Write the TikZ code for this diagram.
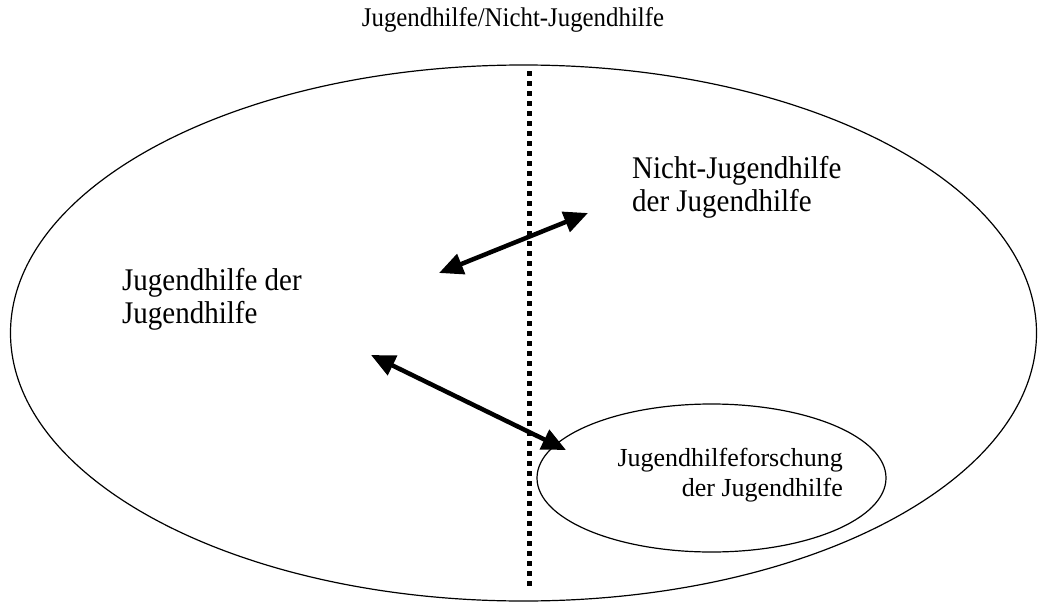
\documentclass[tikz,border=0pt]{standalone}
\usepackage{fontspec}
\setmainfont{Liberation Serif}
\newfontfamily\tallserif[FakeStretch=0.92]{Liberation Serif}
\usetikzlibrary{arrows.meta}
\begin{document}
\begin{tikzpicture}[x=1pt,y=-1pt,
  bigtext/.style={font=\tallserif\fontsize{31.5}{33}\selectfont, inner sep=0pt, align=left},
  smalltext/.style={font=\fontsize{26}{29.5}\selectfont, inner sep=0pt, align=right},
  titletext/.style={font=\tallserif\fontsize{27}{30}\selectfont, inner sep=0pt},
  outline/.style={draw=black, line width=1.2pt},
  divider/.style={line width=5pt, dash pattern=on 5pt off 5pt},
  dblarrow/.style={line width=4.5pt, {Triangle[length=24pt,width=21pt]}-{Triangle[length=24pt,width=21pt]}}
]
\useasboundingbox (0,0) rectangle (1038,602);
\draw[outline] (523.5,333) ellipse [x radius=513, y radius=268];
\draw[outline] (711.5,478) ellipse [x radius=174.5, y radius=74];
\coordinate (dtop) at (529,71);
\coordinate (dbot) at (529,590);
\draw[divider] (dtop) -- (dbot);
\node[titletext, anchor=base] (title) at (513,27) {Jugendhilfe/Nicht-Jugendhilfe};
\node[bigtext, anchor=north west] (nj) at (632,156) {Nicht-Jugendhilfe\\der Jugendhilfe};
\node[bigtext, anchor=north west] (jj) at (122,268) {Jugendhilfe der\\Jugendhilfe};
\node[smalltext, anchor=north east] (jf) at (843,448) {Jugendhilfeforschung\\der Jugendhilfe};
\coordinate (a1l) at (439,273);
\coordinate (a1r) at (588,213);
\coordinate (a2l) at (371,355);
\coordinate (a2r) at (566,450);
\draw[dblarrow] (a1l) -- (a1r);
\draw[dblarrow] (a2l) -- (a2r);
\end{tikzpicture}
\end{document}
